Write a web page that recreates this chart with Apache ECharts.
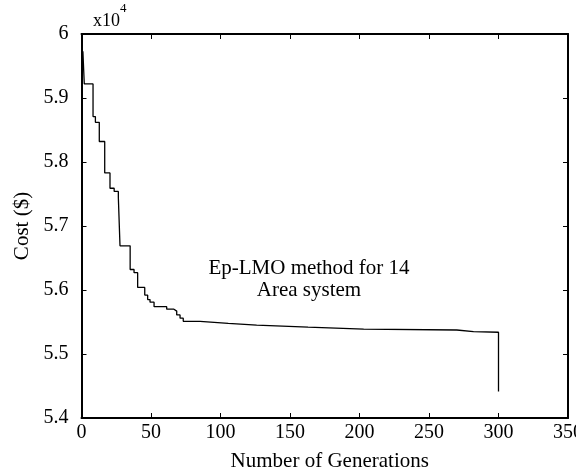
<!DOCTYPE html>
<html><head><meta charset="utf-8">
<script src="https://cdn.jsdelivr.net/npm/echarts@6/dist/echarts.min.js"></script>
<style>html,body{margin:0;padding:0;background:#fff}#c{width:576px;height:472px}</style>
</head><body><div id="c"></div>
<script>
const generations = [1, 2, 8.3, 10, 12.8, 16.7, 20.5, 23.5, 26.5, 27.7, 35, 37.8, 40.4, 45.5, 47.6, 49.3, 52.2, 61.3, 66.5, 68.5, 70.9, 73.2, 85.3, 105.6, 126, 163, 203, 270, 282, 300];
const costs = [5.973, 5.922, 5.871, 5.862, 5.832, 5.783, 5.759, 5.754, 5.745, 5.669, 5.632, 5.627, 5.604, 5.592, 5.585, 5.581, 5.574, 5.570, 5.567, 5.561, 5.556, 5.551, 5.548, 5.545, 5.542, 5.539, 5.5375, 5.535, 5.534, 5.4416];
const yTicks = ['5.4','5.5','5.6','5.7','5.8','5.9','6'];
const xLabel = 'Number of Generations';
const yLabel = 'Cost ($)';
const annotation = ['Ep-LMO method for 14', 'Area system'];

const font = 'Liberation Serif';
const chart = echarts.init(document.getElementById('c'), null, {renderer:'canvas'});
chart.setOption({
  animation:false,
  backgroundColor:'#fff',
  grid:{left:81.5, right:8, top:34, bottom:54, containLabel:false, outerBoundsMode:'none'},
  xAxis:[{
    type:'value', min:0, max:350, interval:50,
    axisLine:{show:true, onZero:false, lineStyle:{color:'#000', width:2}},
    axisTick:{show:true, inside:true, length:5, lineStyle:{color:'#000', width:1}},
    axisLabel:{color:'#000', fontFamily:font, fontSize:20, margin:5},
    splitLine:{show:false},
    name:xLabel, nameLocation:'middle', nameGap:33,
    nameTextStyle:{color:'#000', fontFamily:font, fontSize:21, padding:[0,0,0,10]}
  },{
    type:'value', position:'top', min:0, max:350, interval:50,
    axisLine:{show:true, onZero:false, lineStyle:{color:'#000', width:2}},
    axisTick:{show:true, inside:true, length:5, lineStyle:{color:'#000', width:1}},
    axisLabel:{show:false}, splitLine:{show:false}
  }],
  yAxis:[{
    type:'value', min:5.4, max:6.0, interval:0.1,
    axisLine:{show:true, onZero:false, lineStyle:{color:'#000', width:2}},
    axisTick:{show:true, inside:true, length:5, lineStyle:{color:'#000', width:1}},
    axisLabel:{color:'#000', fontFamily:font, fontSize:20, margin:13,
      formatter:(v)=>yTicks[Math.round((v-5.4)*10)]},
    splitLine:{show:false},
    name:yLabel, nameLocation:'middle', nameGap:49, nameRotate:90,
    nameTextStyle:{color:'#000', fontFamily:font, fontSize:21}
  },{
    type:'value', position:'right', min:5.4, max:6.0, interval:0.1,
    axisLine:{show:true, onZero:false, lineStyle:{color:'#000', width:2}},
    axisTick:{show:true, inside:true, length:5, lineStyle:{color:'#000', width:1}},
    axisLabel:{show:false}, splitLine:{show:false}
  }],
  graphic:[
    {type:'text', left:93, top:2, style:{
      text:'{a|x10}{b|4}', rich:{
        a:{fontFamily:font, fontSize:18, fill:'#000', verticalAlign:'bottom', lineHeight:28},
        b:{fontFamily:font, fontSize:13, fill:'#000', verticalAlign:'top', lineHeight:18}
      }}},
    {type:'text', x:309, y:257, style:{text:annotation.join('\n'), fontFamily:font, fontSize:21, fill:'#000', align:'center', verticalAlign:'top', lineHeight:22}}
  ],
  series:[{
    type:'line', step:'end', showSymbol:false, symbol:'none',
    data:generations.map((g,i)=>[g, costs[i]]),
    lineStyle:{color:'#000', width:1.3}
  }]
});
</script></body></html>
